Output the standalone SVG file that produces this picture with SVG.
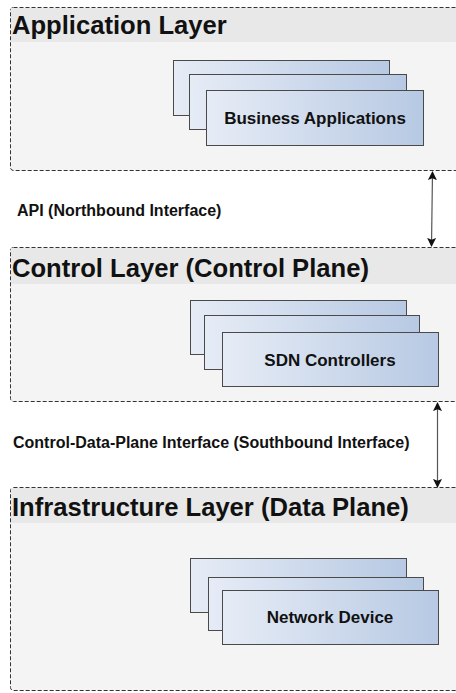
<svg xmlns="http://www.w3.org/2000/svg" width="456" height="693" viewBox="0 0 456 693">
<defs>
<linearGradient id="bg" x1="0" y1="0" x2="1" y2="0">
<stop offset="0" stop-color="#e6ecf6"/>
<stop offset="1" stop-color="#b7c9e3"/>
</linearGradient>
<marker id="ah" viewBox="0 0 10 10" refX="9" refY="5" markerWidth="9" markerHeight="10" orient="auto-start-reverse" markerUnits="userSpaceOnUse">
<path d="M0,0 L10,5 L0,10 L2,5 z" fill="#111"/>
</marker>
</defs>
<style>
.layer{fill:#f4f4f4;stroke:#333;stroke-width:1;stroke-dasharray:4 2}
.head{fill:#e8e8e8}
.title{font-family:"Liberation Sans",Arial,sans-serif;font-weight:bold;font-size:25.6px;fill:#111}
.box{fill:url(#bg);stroke:#4a4a4a;stroke-width:1}
.bt{font-family:"Liberation Sans",Arial,sans-serif;font-weight:bold;font-size:17px;fill:#111;text-anchor:middle}
.lbl{font-family:"Liberation Sans",Arial,sans-serif;font-weight:bold;font-size:16px;fill:#111}
.conn{stroke:#555;stroke-width:1.2;fill:none;marker-start:url(#ah);marker-end:url(#ah)}
</style>
<g id="application-layer">
<rect class="layer" x="10.5" y="7.5" width="460" height="163" rx="3"/>
<rect class="head" x="11" y="8" width="445" height="34"/>
<text class="title" x="12" y="34">Application Layer</text>
</g>
<g id="business-applications">
<rect class="box" x="173.5" y="60.5" width="216" height="55"/>
<rect class="box" x="189.5" y="74.5" width="217" height="55"/>
<rect class="box" x="206.5" y="90.5" width="217" height="55"/>
<text class="bt" x="315" y="124">Business Applications</text>
</g>
<g id="control-layer">
<rect class="layer" x="10.5" y="247.5" width="460" height="154" rx="3"/>
<rect class="head" x="11" y="248" width="445" height="36"/>
<text class="title" x="12" y="277">Control Layer (Control Plane)</text>
</g>
<g id="sdn-controllers">
<rect class="box" x="190.5" y="300.5" width="216" height="54"/>
<rect class="box" x="204.5" y="315.5" width="215" height="54"/>
<rect class="box" x="222.5" y="332.5" width="216" height="54"/>
<text class="bt" x="330" y="366">SDN Controllers</text>
</g>
<g id="infrastructure-layer">
<rect class="layer" x="10.5" y="487.5" width="460" height="203" rx="3"/>
<rect class="head" x="11" y="488" width="445" height="35"/>
<text class="title" x="12" y="516">Infrastructure Layer (Data Plane)</text>
</g>
<g id="network-device">
<rect class="box" x="190.5" y="558.5" width="216" height="54"/>
<rect class="box" x="208.5" y="577.5" width="215" height="53"/>
<rect class="box" x="222.5" y="590.5" width="216" height="54"/>
<text class="bt" x="330" y="623">Network Device</text>
</g>
<g id="connectors">
<line class="conn" x1="432.5" y1="172" x2="431.5" y2="246"/>
<text class="lbl" x="17" y="216">API (Northbound Interface)</text>
<line class="conn" x1="437.5" y1="403" x2="437.5" y2="487"/>
<text class="lbl" x="13" y="448">Control-Data-Plane Interface (Southbound Interface)</text>
</g>
</svg>
